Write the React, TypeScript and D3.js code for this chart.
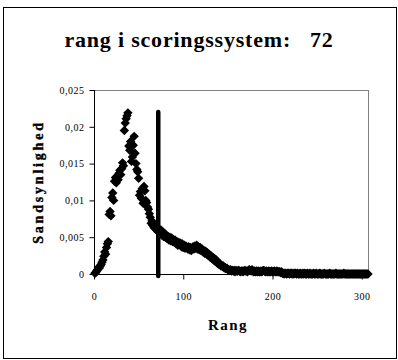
import React, { useEffect, useRef } from "react";
import {
    select,
    scaleLinear,
    axisLeft,
    axisBottom,
    symbol,
    symbolSquare,
    formatLocale
} from "d3";

const titel = "rang i scoringssystem:   72";
const xTitel = "Rang";
const yTitel = "Sandsynlighed";
const xTicks = [0, 100, 200, 300];
const yTicks = [0, 0.005, 0.01, 0.015, 0.02, 0.025];

// sandsynlighed for rang 1, 2, 3, ...
const sandsynlighed = [
    0.0001, 0.0002, 0.0004, 0.0006, 0.0009, 0.0008, 0.0011, 0.0013, 0.0016, 0.0019,
    0.0024, 0.0030, 0.0027, 0.0036, 0.0041, 0.0044, 0.0081, 0.0085, 0.0079, 0.0104,
    0.0110, 0.0100, 0.0126, 0.0131, 0.0124, 0.0133, 0.0128, 0.0137, 0.0141, 0.0135,
    0.0143, 0.0151, 0.0147, 0.0195, 0.0205, 0.0211, 0.0215, 0.0219, 0.0174, 0.0168,
    0.0180, 0.0153, 0.0159, 0.0175, 0.0187, 0.0164, 0.0150, 0.0142, 0.0139, 0.0130,
    0.0107, 0.0112, 0.0103, 0.0116, 0.0096, 0.0119, 0.0113, 0.0100, 0.0097, 0.0091,
    0.0088, 0.0082, 0.0077, 0.0069, 0.0072, 0.0066, 0.0064, 0.0062, 0.0065, 0.0060,
    0.0063, 0.0057, 0.0061, 0.0055, 0.0060, 0.0053, 0.0057, 0.0051, 0.0055, 0.0050,
    0.0053, 0.0048, 0.0051, 0.0046, 0.0050, 0.0045, 0.0049, 0.0044, 0.0047, 0.0043,
    0.0046, 0.0041, 0.0044, 0.0039, 0.0043, 0.0040, 0.0042, 0.0037, 0.0041, 0.0036,
    0.0039, 0.0035, 0.0038, 0.0036, 0.0034, 0.0037, 0.0033, 0.0036, 0.0032, 0.0035,
    0.0037, 0.0034, 0.0038, 0.0035, 0.0039, 0.0034, 0.0037, 0.0033, 0.0036, 0.0032,
    0.0034, 0.0030, 0.0032, 0.0028, 0.0031, 0.0027, 0.0029, 0.0025, 0.0027, 0.0023,
    0.0025, 0.0021, 0.0023, 0.0019, 0.0021, 0.0017, 0.0019, 0.0015, 0.0016, 0.0013,
    0.0014, 0.0011, 0.0012, 0.0010, 0.0011, 0.0008, 0.0009, 0.0007, 0.0008, 0.0006,
    0.0006, 0.0005, 0.0006, 0.0004, 0.0005, 0.0004, 0.0005, 0.0003, 0.0005, 0.0004,
    0.0004, 0.0005, 0.0004, 0.0003, 0.0004, 0.0004, 0.0003, 0.0004, 0.0005, 0.0004,
    0.0004, 0.0003, 0.0005, 0.0006, 0.0005, 0.0004, 0.0006, 0.0004, 0.0003, 0.0004,
    0.0003, 0.0004, 0.0003, 0.0004, 0.0003, 0.0003, 0.0004, 0.0003, 0.0004, 0.0005,
    0.0004, 0.0003, 0.0004, 0.0003, 0.0003, 0.0004, 0.0003, 0.0003, 0.0004, 0.0003,
    0.0003, 0.0004, 0.0003, 0.0003, 0.0004, 0.0003, 0.0003, 0.0003, 0.0002, 0.0003,
    0.0001, 0.0001, 0.0000, 0.0001, 0.0001, 0.0000, 0.0001, 0.0001, 0.0000, 0.0001,
    0.0001, 0.0000, 0.0001, 0.0000, 0.0001, 0.0001, 0.0000, 0.0001, 0.0000, 0.0000,
    0.0001, 0.0000, 0.0000, 0.0001, 0.0000, 0.0001, 0.0000, 0.0000, 0.0001, 0.0000,
    0.0000, 0.0001, 0.0000, 0.0000, 0.0000, 0.0001, 0.0000, 0.0000, 0.0001, 0.0000,
    0.0000, 0.0000, 0.0001, 0.0000, 0.0000, 0.0000, 0.0000, 0.0001, 0.0000, 0.0000,
    0.0000, 0.0000, 0.0000, 0.0001, 0.0000, 0.0000, 0.0000, 0.0000, 0.0000, 0.0000,
    0.0001, 0.0000, 0.0000, 0.0000, 0.0000, 0.0000, 0.0000, 0.0000, 0.0000, 0.0001,
    0.0000, 0.0000, 0.0000, 0.0000, 0.0000, 0.0000, 0.0000, 0.0000, 0.0000, 0.0000,
    0.0000, 0.0000, 0.0000, 0.0000, 0.0000, 0.0000, 0.0000, 0.0000, 0.0000, 0.0000,
    0.0000, 0.0000, 0.0000, 0.0000, 0.0000, 0.0000, 0.0000
];

// lodret markering af scoringssystemets rang
const markeretRang = [72];
const markeretHoejde = [0.022];

const serif = "'Liberation Serif', 'Times New Roman', serif";

export default function App() {
    const svgRef: any = useRef();

    useEffect(() => {
        const svg = select(svgRef.current);
        svg.selectAll("*").remove();

        const left = 94, right = 368, top = 90, bottom = 274;
        const xScale = scaleLinear().domain([0, 307]).range([left, right]);
        const yScale = scaleLinear().domain([0, 0.025]).range([bottom, top]);
        const dk = formatLocale({ decimal: ",", thousands: ".", grouping: [3], currency: ["", " kr"] });
        const yFmt = (d: any) => (d === 0 ? "0" : dk.format("~g")(d));

        // ydre ramme
        svg.append("rect")
            .attr("x", 3.5).attr("y", 7.5)
            .attr("width", 393).attr("height", 351)
            .attr("fill", "#fff").attr("stroke", "#000");

        svg.append("text")
            .attr("x", 199).attr("y", 47)
            .attr("text-anchor", "middle")
            .attr("font-family", serif).attr("font-weight", "bold")
            .attr("font-size", 22).attr("letter-spacing", 0.8)
            .style("white-space", "pre")
            .text(titel);

        // plotområde
        svg.append("rect")
            .attr("x", left + 0.5).attr("y", top + 0.5)
            .attr("width", right - left).attr("height", bottom - top)
            .attr("fill", "none").attr("stroke", "#808080");

        const yAx: any = axisLeft(yScale).tickValues(yTicks).tickSize(5).tickPadding(5).tickFormat(yFmt);
        const gy = svg.append("g").attr("transform", `translate(${left + 0.5},0)`).call(yAx);
        const xAx: any = axisBottom(xScale).tickValues(xTicks).tickSize(5).tickPadding(13);
        const gx = svg.append("g").attr("transform", `translate(0,${bottom + 0.5})`).call(xAx);
        [gy, gx].forEach((g: any) => {
            g.selectAll("path").attr("stroke", "#000");
            g.selectAll("line").attr("stroke", "#000");
            g.selectAll("text")
                .attr("font-family", serif).attr("font-size", 10)
                .attr("letter-spacing", 0.5).attr("fill", "#000");
            g.attr("font-family", null).attr("font-size", null);
        });
        gx.select(".domain").attr("d", `M${left},0H${right}`);
        gy.select(".domain").attr("d", `M0,${bottom}V${top}`);

        const diamond = symbol(symbolSquare, 44);
        svg.append("g")
            .selectAll("path")
            .data(sandsynlighed)
            .join("path")
            .attr("d", diamond as any)
            .attr("fill", "#000")
            .attr("transform", (d, i) => `translate(${xScale(i + 1)},${yScale(d)}) rotate(45)`);

        svg.append("g")
            .selectAll("line")
            .data(markeretRang)
            .join("line")
            .attr("x1", (d) => xScale(d)).attr("x2", (d) => xScale(d))
            .attr("y1", yScale(0) + 2)
            .attr("y2", (d, i) => yScale(markeretHoejde[i]))
            .attr("stroke", "#000").attr("stroke-width", 4.5)
            .attr("stroke-linecap", "round");

        svg.append("text")
            .attr("x", 228).attr("y", 330)
            .attr("text-anchor", "middle")
            .attr("font-family", serif).attr("font-weight", "bold")
            .attr("font-size", 15).attr("letter-spacing", 1.5)
            .text(xTitel);

        svg.append("text")
            .attr("transform", `translate(43,182) rotate(-90)`)
            .attr("text-anchor", "middle")
            .attr("font-family", serif).attr("font-weight", "bold")
            .attr("font-size", 14).attr("letter-spacing", 2.8)
            .attr("stroke", "#000").attr("stroke-width", 0.4)
            .text(yTitel);
    }, []);

    return (
        <svg
            ref={svgRef}
            width={398}
            height={360}
            style={{ position: "absolute", left: 0, top: 0, background: "#fff" }}
        />
    );
}
